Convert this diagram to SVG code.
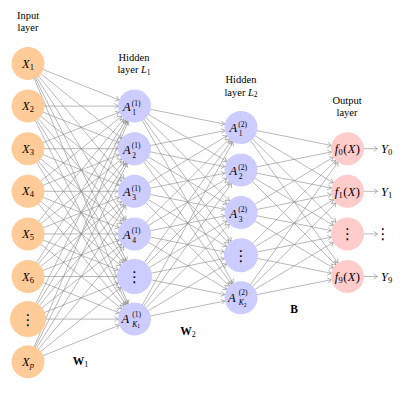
<svg xmlns="http://www.w3.org/2000/svg" width="417" height="398" viewBox="0 0 417 398">
<style>
text{font-family:"Liberation Serif","DejaVu Serif",serif;fill:#000}
.hd{font-size:10.5px;text-anchor:middle}
.m{font-size:12.5px;font-style:italic}
.c{text-anchor:middle}
.s{font-size:8.5px;font-style:normal}
.si{font-size:8.5px;font-style:italic}
.t{font-size:7.5px;font-style:normal}
.ti{font-size:7.5px;font-style:italic}
.ss{font-size:5.5px;font-style:normal}
.dots{font-family:"DejaVu Sans",sans-serif;font-size:15px;text-anchor:middle;font-style:normal}
.inp{fill:#FFCC99}
.hid{fill:#CCCCFF}
.out{fill:#FFCCCC}
.bf{font-size:11.5px;font-weight:bold;text-anchor:middle}
.fx{letter-spacing:0.4px}
</style>
<defs>
<marker id="a" markerUnits="userSpaceOnUse" orient="auto" overflow="visible" markerWidth="1" markerHeight="1"><path d="M-20.2,-2.6Q-17.6,-0.7-16.5,0Q-17.6,0.7-20.2,2.6" fill="none" stroke="#888" stroke-width="0.6"/></marker>
<marker id="d" markerUnits="userSpaceOnUse" orient="auto" overflow="visible" markerWidth="1" markerHeight="1"><path d="M-21.2,-2.6Q-18.6,-0.7-17.5,0Q-18.6,0.7-21.2,2.6" fill="none" stroke="#888" stroke-width="0.6"/></marker>
<marker id="e" markerUnits="userSpaceOnUse" orient="auto" overflow="visible" markerWidth="1" markerHeight="1"><path d="M-20.7,-2.6Q-18.1,-0.7-17,0Q-18.1,0.7-20.7,2.6" fill="none" stroke="#888" stroke-width="0.6"/></marker>
<marker id="t" markerUnits="userSpaceOnUse" orient="auto" overflow="visible" markerWidth="1" markerHeight="1"><path d="M-3.7,-2.6Q-1.1,-0.7 0,0Q-1.1,0.7-3.7,2.6" fill="none" stroke="#888" stroke-width="0.6"/></marker>
</defs>
<g id="connectors" fill="none" stroke="#888" stroke-width="0.6">
<g marker-end="url(#a)">
<path d="M28 63.5L134.5 106.1"/><path d="M28 106.1L134.5 106.1"/><path d="M28 148.7L134.5 106.1"/><path d="M28 191.3L134.5 106.1"/><path d="M28 233.9L134.5 106.1"/><path d="M28 276.5L134.5 106.1"/><path d="M28 319.1L134.5 106.1"/><path d="M28 361.7L134.5 106.1"/>
<path d="M28 63.5L134.5 148.7"/><path d="M28 106.1L134.5 148.7"/><path d="M28 148.7L134.5 148.7"/><path d="M28 191.3L134.5 148.7"/><path d="M28 233.9L134.5 148.7"/><path d="M28 276.5L134.5 148.7"/><path d="M28 319.1L134.5 148.7"/><path d="M28 361.7L134.5 148.7"/>
<path d="M28 63.5L134.5 191.3"/><path d="M28 106.1L134.5 191.3"/><path d="M28 148.7L134.5 191.3"/><path d="M28 191.3L134.5 191.3"/><path d="M28 233.9L134.5 191.3"/><path d="M28 276.5L134.5 191.3"/><path d="M28 319.1L134.5 191.3"/><path d="M28 361.7L134.5 191.3"/>
<path d="M28 63.5L134.5 233.9"/><path d="M28 106.1L134.5 233.9"/><path d="M28 148.7L134.5 233.9"/><path d="M28 191.3L134.5 233.9"/><path d="M28 233.9L134.5 233.9"/><path d="M28 276.5L134.5 233.9"/><path d="M28 319.1L134.5 233.9"/><path d="M28 361.7L134.5 233.9"/>
<path d="M28 63.5L134.5 319.1"/><path d="M28 106.1L134.5 319.1"/><path d="M28 148.7L134.5 319.1"/><path d="M28 191.3L134.5 319.1"/><path d="M28 233.9L134.5 319.1"/><path d="M28 276.5L134.5 319.1"/><path d="M28 319.1L134.5 319.1"/><path d="M28 361.7L134.5 319.1"/>
<path d="M134.5 106.1L241 127.4"/><path d="M134.5 148.7L241 127.4"/><path d="M134.5 191.3L241 127.4"/><path d="M134.5 233.9L241 127.4"/><path d="M134.5 276.5L241 127.4"/><path d="M134.5 319.1L241 127.4"/>
<path d="M134.5 106.1L241 170"/><path d="M134.5 148.7L241 170"/><path d="M134.5 191.3L241 170"/><path d="M134.5 233.9L241 170"/><path d="M134.5 276.5L241 170"/><path d="M134.5 319.1L241 170"/>
<path d="M134.5 106.1L241 212.6"/><path d="M134.5 148.7L241 212.6"/><path d="M134.5 191.3L241 212.6"/><path d="M134.5 233.9L241 212.6"/><path d="M134.5 276.5L241 212.6"/><path d="M134.5 319.1L241 212.6"/>
<path d="M134.5 106.1L241 297.8"/><path d="M134.5 148.7L241 297.8"/><path d="M134.5 191.3L241 297.8"/><path d="M134.5 233.9L241 297.8"/><path d="M134.5 276.5L241 297.8"/><path d="M134.5 319.1L241 297.8"/>
<path d="M241 127.4L347.5 148.7"/><path d="M241 170L347.5 148.7"/><path d="M241 212.6L347.5 148.7"/><path d="M241 255.2L347.5 148.7"/><path d="M241 297.8L347.5 148.7"/>
<path d="M241 127.4L347.5 191.3"/><path d="M241 170L347.5 191.3"/><path d="M241 212.6L347.5 191.3"/><path d="M241 255.2L347.5 191.3"/><path d="M241 297.8L347.5 191.3"/>
<path d="M241 127.4L347.5 233.9"/><path d="M241 170L347.5 233.9"/><path d="M241 212.6L347.5 233.9"/><path d="M241 255.2L347.5 233.9"/><path d="M241 297.8L347.5 233.9"/>
<path d="M241 127.4L347.5 276.5"/><path d="M241 170L347.5 276.5"/><path d="M241 212.6L347.5 276.5"/><path d="M241 255.2L347.5 276.5"/><path d="M241 297.8L347.5 276.5"/>
</g>
<g marker-end="url(#d)">
<path d="M28 63.5L134.5 276.5"/><path d="M28 106.1L134.5 276.5"/><path d="M28 148.7L134.5 276.5"/><path d="M28 191.3L134.5 276.5"/><path d="M28 233.9L134.5 276.5"/><path d="M28 276.5L134.5 276.5"/><path d="M28 319.1L134.5 276.5"/><path d="M28 361.7L134.5 276.5"/>
</g>
<g marker-end="url(#e)">
<path d="M134.5 106.1L241 255.2"/><path d="M134.5 148.7L241 255.2"/><path d="M134.5 191.3L241 255.2"/><path d="M134.5 233.9L241 255.2"/><path d="M134.5 276.5L241 255.2"/><path d="M134.5 319.1L241 255.2"/>
</g>
<g marker-end="url(#t)">
<path d="M364 148.7H377.5"/><path d="M364 191.3H377.5"/><path d="M364 233.9H377.5"/><path d="M364 276.5H377.5"/>
</g>
</g>
<g id="labels">
<text class="hd" x="28" y="19">Input</text><text class="hd" x="28" y="30.5">layer</text>
<text class="hd" x="134" y="60.5">Hidden</text><text class="hd" x="134" y="73">layer <tspan font-style="italic">L</tspan><tspan font-size="7.5" dy="1.5">1</tspan></text>
<text class="hd" x="241" y="83">Hidden</text><text class="hd" x="241" y="95.5">layer <tspan font-style="italic">L</tspan><tspan font-size="7.5" dy="1.5">2</tspan></text>
<text class="hd" x="347" y="104">Output</text><text class="hd" x="347" y="115.5">layer</text>
<text class="bf" x="80.5" y="365">W<tspan font-size="8" font-weight="normal" dy="1.5">1</tspan></text>
<text class="bf" x="188" y="335">W<tspan font-size="8" font-weight="normal" dy="1.5">2</tspan></text>
<text class="bf" x="294" y="313">B</text>
</g>
<g id="x1"><circle class="inp" cx="28" cy="63.5" r="16.5"/><text class="m c" x="28" y="67.5">X<tspan class="s" dy="2">1</tspan></text></g>
<g id="x2"><circle class="inp" cx="28" cy="106.1" r="16.5"/><text class="m c" x="28" y="110.1">X<tspan class="s" dy="2">2</tspan></text></g>
<g id="x3"><circle class="inp" cx="28" cy="148.7" r="16.5"/><text class="m c" x="28" y="152.7">X<tspan class="s" dy="2">3</tspan></text></g>
<g id="x4"><circle class="inp" cx="28" cy="191.3" r="16.5"/><text class="m c" x="28" y="195.3">X<tspan class="s" dy="2">4</tspan></text></g>
<g id="x5"><circle class="inp" cx="28" cy="233.9" r="16.5"/><text class="m c" x="28" y="237.9">X<tspan class="s" dy="2">5</tspan></text></g>
<g id="x6"><circle class="inp" cx="28" cy="276.5" r="16.5"/><text class="m c" x="28" y="280.5">X<tspan class="s" dy="2">6</tspan></text></g>
<g id="xdots"><circle class="inp" cx="28" cy="319.1" r="18"/><text class="dots" x="28" y="324.5">⋮</text></g>
<g id="xp"><circle class="inp" cx="28" cy="361.7" r="16.5"/><text class="m c" x="28" y="365.7">X<tspan class="si" dy="2">p</tspan></text></g>
<g id="h1_1"><circle class="hid" cx="134.5" cy="106.1" r="16.5"/><text class="m" x="123" y="111.1">A</text><text class="t" x="131.8" y="105.6">(1)</text><text class="t" x="132.3" y="115.1">1</text></g>
<g id="h1_2"><circle class="hid" cx="134.5" cy="148.7" r="16.5"/><text class="m" x="123" y="153.7">A</text><text class="t" x="131.8" y="148.2">(1)</text><text class="t" x="132.3" y="157.7">2</text></g>
<g id="h1_3"><circle class="hid" cx="134.5" cy="191.3" r="16.5"/><text class="m" x="123" y="196.3">A</text><text class="t" x="131.8" y="190.8">(1)</text><text class="t" x="132.3" y="200.3">3</text></g>
<g id="h1_4"><circle class="hid" cx="134.5" cy="233.9" r="16.5"/><text class="m" x="123" y="238.9">A</text><text class="t" x="131.8" y="233.4">(1)</text><text class="t" x="132.3" y="242.9">4</text></g>
<g id="h1_dots"><circle class="hid" cx="134.5" cy="276.5" r="17.5"/><text class="dots" x="134.5" y="281.9">⋮</text></g>
<g id="h1_k"><circle class="hid" cx="134.5" cy="319.1" r="16.5"/><text class="m" x="121.5" y="323.1">A</text><text class="t" x="132.3" y="316.6">(1)</text><text class="ti" x="132.3" y="326.6">K<tspan class="ss" dy="1.5">1</tspan></text></g>
<g id="h2_1"><circle class="hid" cx="241" cy="127.4" r="16.5"/><text class="m" x="229.5" y="132.4">A</text><text class="t" x="238.3" y="126.9">(2)</text><text class="t" x="238.8" y="136.4">1</text></g>
<g id="h2_2"><circle class="hid" cx="241" cy="170" r="16.5"/><text class="m" x="229.5" y="175">A</text><text class="t" x="238.3" y="169.5">(2)</text><text class="t" x="238.8" y="179">2</text></g>
<g id="h2_3"><circle class="hid" cx="241" cy="212.6" r="16.5"/><text class="m" x="229.5" y="217.6">A</text><text class="t" x="238.3" y="212.1">(2)</text><text class="t" x="238.8" y="221.6">3</text></g>
<g id="h2_dots"><circle class="hid" cx="241" cy="255.2" r="17"/><text class="dots" x="241" y="260.6">⋮</text></g>
<g id="h2_k"><circle class="hid" cx="241" cy="297.8" r="16.5"/><text class="m" x="228" y="301.8">A</text><text class="t" x="238.8" y="295.3">(2)</text><text class="ti" x="238.8" y="305.3">K<tspan class="ss" dy="1.5">2</tspan></text></g>
<g id="o0"><circle class="out" cx="347.5" cy="148.7" r="16.5"/><text class="m c fx" x="347.5" y="152.9">f<tspan class="s" dy="2">0</tspan><tspan font-style="normal" dy="-2">(</tspan>X<tspan font-style="normal">)</tspan></text></g>
<g id="o1"><circle class="out" cx="347.5" cy="191.3" r="16.5"/><text class="m c fx" x="347.5" y="195.5">f<tspan class="s" dy="2">1</tspan><tspan font-style="normal" dy="-2">(</tspan>X<tspan font-style="normal">)</tspan></text></g>
<g id="odots"><circle class="out" cx="347.5" cy="233.9" r="16.5"/><text class="dots" x="347.5" y="239.3">⋮</text></g>
<g id="o9"><circle class="out" cx="347.5" cy="276.5" r="16.5"/><text class="m c fx" x="347.5" y="280.7">f<tspan class="s" dy="2">9</tspan><tspan font-style="normal" dy="-2">(</tspan>X<tspan font-style="normal">)</tspan></text></g>
<g id="y0"><text class="m" x="381" y="152.9">Y<tspan class="s" dy="2">0</tspan></text></g>
<g id="y1"><text class="m" x="381" y="195.5">Y<tspan class="s" dy="2">1</tspan></text></g>
<g id="ydots"><text class="dots" x="383" y="239.3">⋮</text></g>
<g id="y9"><text class="m" x="381" y="280.7">Y<tspan class="s" dy="2">9</tspan></text></g>
</svg>
